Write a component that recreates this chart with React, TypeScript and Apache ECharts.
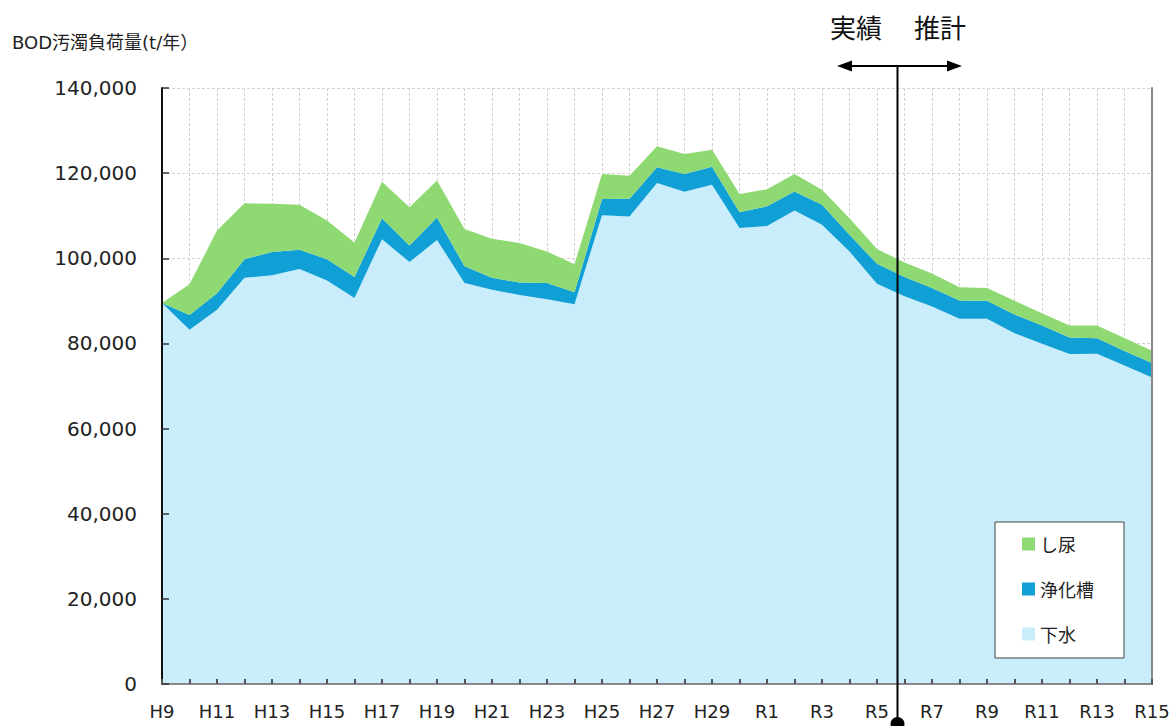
import React, { useEffect, useRef } from "react";
import * as echarts from "echarts";

const categories = [
  "H9", "H10", "H11", "H12", "H13", "H14", "H15", "H16", "H17", "H18", "H19", "H20",
  "H21", "H22", "H23", "H24", "H25", "H26", "H27", "H28", "H29", "H30",
  "R1", "R2", "R3", "R4", "R5", "R6", "R7", "R8", "R9", "R10", "R11", "R12", "R13", "R14", "R15",
];

// 下水 (sewage)
const gesui = [
  89500, 83200, 87900, 95400, 96000, 97500, 94800, 90700, 104500, 99100, 104300, 94200,
  92600, 91400, 90400, 89200, 110100, 109800, 117700, 115600, 117300, 107100,
  107600, 111200, 107900, 101600, 94000, 91100, 88700, 85800, 85800, 82400, 79900, 77500, 77600, 74800, 72000,
];
// 浄化槽 (septic tanks)
const jokaso = [
  0, 3500, 3900, 4400, 5500, 4500, 5000, 4900, 4900, 3900, 5300, 3900,
  2800, 2900, 3800, 2800, 3800, 4200, 3700, 4200, 4200, 3700,
  4600, 4500, 4700, 3900, 4700, 4500, 4300, 4300, 4200, 4400, 4300, 3900, 3600, 3400, 3400,
];
// し尿 (night soil)
const shinyo = [
  0, 7200, 14700, 13100, 11300, 10600, 9100, 8100, 8600, 9000, 8700, 8800,
  9200, 9300, 7400, 6600, 5900, 5400, 4900, 4700, 4000, 4300,
  4000, 4100, 3500, 3900, 3500, 3400, 3400, 3100, 3000, 3200, 2900, 2800, 3000, 3100, 2900,
];

const yMin = 0;
const yMax = 140000;
const yInterval = 20000;

const COLOR_GESUI = "#C9EDFB";
const COLOR_JOKASO = "#10A0D6";
const COLOR_SHINYO = "#8FD973";

const LATIN = '"DejaVu Sans", "Noto Sans CJK JP", sans-serif';
const CJK = '"Noto Sans CJK JP", "DejaVu Sans", sans-serif';

export default function App() {
  const ref = useRef<HTMLDivElement>(null);

  useEffect(() => {
    if (!ref.current) return;
    const chart = echarts.init(ref.current, undefined, { renderer: "svg" });

    const baseX = {
      type: "category" as const,
      data: categories,
      boundaryGap: false,
    };
    const baseY = {
      type: "value" as const,
      min: yMin,
      max: yMax,
      interval: yInterval,
    };

    const option: any = {
      animation: false,
      backgroundColor: "#ffffff",
      grid: { left: 162, right: 21, top: 88, bottom: 42, containLabel: false },
      xAxis: [
        {
          ...baseX,
          position: "bottom",
          z: 0,
          axisLine: { show: false },
          axisTick: { show: false },
          axisLabel: { show: false },
          splitLine: { show: true, interval: 0, lineStyle: { color: "#d2d2d2", type: [3, 2], width: 1 } },
        },
        {
          ...baseX,
          position: "bottom",
          z: 5,
          axisLine: { show: true, lineStyle: { color: "#111", width: 2 } },
          axisTick: { show: true, inside: true, interval: 0, length: 5, lineStyle: { color: "#555", width: 2 } },
          axisLabel: {
            show: true,
            interval: 1,
            margin: 18,
            color: "#222",
            fontSize: 18,
            fontFamily: LATIN,
          },
          splitLine: { show: false },
        },
        {
          ...baseX,
          position: "top",
          z: 5,
          axisLine: { show: true, lineStyle: { color: "#888", width: 2 } },
          axisTick: { show: false },
          axisLabel: { show: false },
          splitLine: { show: false },
        },
      ],
      yAxis: [
        {
          ...baseY,
          position: "left",
          z: 0,
          axisLine: { show: false },
          axisTick: { show: false },
          axisLabel: { show: false },
          splitLine: { show: true, lineStyle: { color: "#d2d2d2", type: [3, 2], width: 1 } },
        },
        {
          ...baseY,
          position: "left",
          z: 5,
          axisLine: { show: true, lineStyle: { color: "#111", width: 2 } },
          axisTick: { show: true, inside: true, length: 7, lineStyle: { color: "#333", width: 1.5 } },
          axisLabel: {
            show: true,
            margin: 25,
            color: "#222",
            fontSize: 20,
            fontFamily: LATIN,
            formatter: (v: number) => v.toLocaleString("en-US"),
          },
          splitLine: { show: false },
        },
        {
          ...baseY,
          position: "right",
          z: 5,
          axisLine: { show: true, lineStyle: { color: "#888", width: 2 } },
          axisTick: { show: false },
          axisLabel: { show: false },
          splitLine: { show: false },
        },
      ],
      legend: {
        orient: "vertical",
        left: 995,
        top: 522,
        data: ["し尿", "浄化槽", "下水"],
        icon: "rect",
        itemWidth: 13,
        itemHeight: 13,
        itemGap: 27,
        itemStyle: { borderWidth: 0 },
        padding: [13, 30, 15, 27],
        backgroundColor: "#ffffff",
        borderColor: "#444",
        borderWidth: 1,
        borderRadius: 0,
        textStyle: { fontSize: 18, color: "#222", fontFamily: CJK },
        z: 10,
      },
      series: [
        {
          name: "下水",
          type: "line",
          stack: "total",
          data: gesui,
          symbol: "none",
          showSymbol: false,
          lineStyle: { width: 0 },
          itemStyle: { color: COLOR_GESUI },
          areaStyle: { color: COLOR_GESUI, opacity: 1 },
          z: 2,
        },
        {
          name: "浄化槽",
          type: "line",
          stack: "total",
          data: jokaso,
          symbol: "none",
          showSymbol: false,
          lineStyle: { width: 0 },
          itemStyle: { color: COLOR_JOKASO },
          areaStyle: { color: COLOR_JOKASO, opacity: 1 },
          z: 2,
        },
        {
          name: "し尿",
          type: "line",
          stack: "total",
          data: shinyo,
          symbol: "none",
          showSymbol: false,
          lineStyle: { width: 0 },
          itemStyle: { color: COLOR_SHINYO },
          areaStyle: { color: COLOR_SHINYO, opacity: 1 },
          z: 2,
        },
      ],
      graphic: [
        {
          type: "text",
          left: 12,
          top: 33,
          style: {
            text: "BOD汚濁負荷量(t/年）",
            fontSize: 18,
            fontFamily: LATIN,
            fill: "#222",
          },
        },
        {
          type: "text",
          x: 856,
          y: 26,
          style: {
            text: "実績",
            fontSize: 26,
            fontFamily: CJK,
            fill: "#111",
            align: "center",
            verticalAlign: "middle",
          },
        },
        {
          type: "text",
          x: 940,
          y: 26,
          style: {
            text: "推計",
            fontSize: 26,
            fontFamily: CJK,
            fill: "#111",
            align: "center",
            verticalAlign: "middle",
          },
        },
        {
          type: "line",
          z: 20,
          shape: { x1: 848, y1: 66, x2: 951, y2: 66 },
          style: { stroke: "#000", lineWidth: 2 },
        },
        {
          type: "polygon",
          z: 20,
          shape: { points: [[837, 66], [852, 60.5], [852, 71.5]] },
          style: { fill: "#000" },
        },
        {
          type: "polygon",
          z: 20,
          shape: { points: [[962, 66], [947, 60.5], [947, 71.5]] },
          style: { fill: "#000" },
        },
        {
          type: "line",
          z: 20,
          shape: { x1: 897.5, y1: 66, x2: 897.5, y2: 722 },
          style: { stroke: "#000", lineWidth: 2 },
        },
        {
          type: "circle",
          z: 20,
          shape: { cx: 897.5, cy: 724, r: 7 },
          style: { fill: "#000" },
        },
      ],
    };

    chart.setOption(option);
    return () => chart.dispose();
  }, []);

  return (
    <div
      ref={ref}
      style={{ width: 1173, height: 726, position: "absolute", left: 0, top: 0 }}
    />
  );
}
